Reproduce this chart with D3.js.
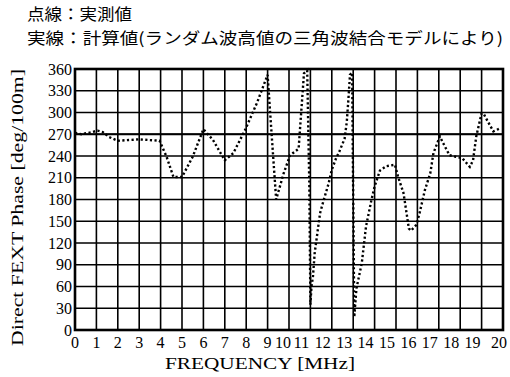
<!DOCTYPE html>
<html>
<head>
<meta charset="utf-8">
<script src="https://cdn.jsdelivr.net/npm/d3@7"></script>
<style>
  body { margin: 0; background: #fff; }
</style>
</head>
<body>
<div id="chart"></div>
<script>
// Textes du graphique
const titleLines = ["点線：実測値", "実線：計算値(ランダム波高値の三角波結合モデルにより)"];
const xLabel = "FREQUENCY [MHz]";
const yLabel = "Direct FEXT Phase [deg/100m]";

// Graduations
const xTicks = d3.range(0, 21, 1);
const yTicks = d3.range(0, 361, 30);

// Valeur calculée (ligne continue)
const computedFreq = [0, 20];
const computedPhase = [270, 270];

const measuredFreq = [0.0, 0.3, 0.8, 1.05, 1.3, 1.6, 2.0, 3.0, 3.95, 4.28, 4.6, 5.0, 5.5, 6.0, 6.45, 7.0, 7.4, 7.95, 8.5, 9.0,
  9.1, 9.27, 9.4, 9.75, 10.05, 10.45, 10.55, 10.7, 10.85, 10.95, 11.0, 11.05, 11.12, 11.2, 11.45, 11.6, 11.85, 12.0, 12.2, 12.35,
  12.6, 12.7, 12.78, 12.85, 12.95, 13.05, 13.15, 13.4, 13.6, 13.85, 14.0, 14.25, 14.55, 14.95, 15.1, 15.35, 15.5, 15.6, 15.7, 15.95,
  16.1, 16.35, 16.6, 16.75, 17.05, 17.2, 17.5, 17.8, 18.1, 18.45, 18.6, 18.75, 19.0, 19.1, 19.3, 19.55, 19.85];
const measuredPhase = [272, 270, 273, 275, 273, 266, 261, 263, 261, 239, 211, 211, 239, 277, 262, 234, 244, 276, 313, 352,
  308, 235, 180, 216, 241, 250, 292, 354, 358, 200, 35, 60, 74, 106, 161, 177, 202, 221, 237, 246,
  264, 287, 320, 352, 355, 18, 57, 92, 143, 179, 198, 220, 226, 228, 211, 189, 160, 140, 137, 145,
  161, 193, 216, 244, 267, 258, 241, 239, 237, 225, 234, 267, 299, 298, 287, 274, 278];

const width = 510, height = 377;
const margin = {top: 69, right: 7, bottom: 47, left: 75};
const serif = "'Liberation Serif', 'DejaVu Serif', serif";
const cjk = "'Noto Sans CJK JP', sans-serif";

const svg = d3.select("#chart").append("svg")
  .attr("width", width)
  .attr("height", height);

const x = d3.scaleLinear().domain([0, 20]).range([margin.left, width - margin.right]);
const y = d3.scaleLinear().domain([0, 360]).range([height - margin.bottom, margin.top]);

// Titre en deux lignes
svg.append("text")
  .attr("x", 27).attr("y", 20)
  .attr("font-family", cjk).attr("font-size", 16)
  .attr("textLength", 105).attr("lengthAdjust", "spacingAndGlyphs")
  .text(titleLines[0]);
svg.append("text")
  .attr("x", 27).attr("y", 44)
  .attr("font-family", cjk).attr("font-size", 16)
  .attr("textLength", 476).attr("lengthAdjust", "spacingAndGlyphs")
  .text(titleLines[1]);

// Grille
svg.append("g").selectAll("line")
  .data(xTicks)
  .join("line")
  .attr("x1", d => x(d)).attr("x2", d => x(d))
  .attr("y1", y(0)).attr("y2", y(360))
  .attr("stroke", "#000").attr("stroke-width", 1.6);

svg.append("g").selectAll("line")
  .data(yTicks)
  .join("line")
  .attr("x1", x(0)).attr("x2", x(20))
  .attr("y1", d => y(d)).attr("y2", d => y(d))
  .attr("stroke", "#000").attr("stroke-width", 1.4);

// Cadre
svg.append("rect")
  .attr("x", x(0)).attr("y", y(360))
  .attr("width", x(20) - x(0)).attr("height", y(0) - y(360))
  .attr("fill", "none").attr("stroke", "#000").attr("stroke-width", 2.6);

// Ligne calculée
const line = d3.line().x(d => x(d[0])).y(d => y(d[1]));
svg.append("path")
  .datum(d3.zip(computedFreq, computedPhase))
  .attr("d", line)
  .attr("fill", "none").attr("stroke", "#000").attr("stroke-width", 2);

// Ligne mesurée en pointillés
svg.append("path")
  .datum(d3.zip(measuredFreq, measuredPhase))
  .attr("d", line)
  .attr("fill", "none").attr("stroke", "#000")
  .attr("stroke-width", 2.4).attr("stroke-dasharray", "2.2,2.4");

// Étiquettes des axes (les nombres à deux chiffres sont serrés vers la gauche)
svg.append("g").selectAll("text")
  .data(xTicks)
  .join("text")
  .attr("x", d => x(d) + (d === 20 ? -4 : d === 10 ? -6 : d > 10 ? -9 : 0))
  .attr("y", height - 29)
  .attr("text-anchor", "middle")
  .attr("font-family", serif).attr("font-size", 16)
  .attr("textLength", d => d >= 10 ? 16 : null)
  .attr("lengthAdjust", "spacingAndGlyphs")
  .text(d => d);

svg.append("g").selectAll("text")
  .data(yTicks)
  .join("text")
  .attr("x", x(0) - 3).attr("y", d => y(d) + 5.5)
  .attr("text-anchor", "end")
  .attr("font-family", serif).attr("font-size", 16)
  .text(d => d);

svg.append("text")
  .attr("x", 260).attr("y", height - 8)
  .attr("text-anchor", "middle")
  .attr("font-family", serif).attr("font-size", 17)
  .attr("textLength", 190).attr("lengthAdjust", "spacingAndGlyphs")
  .text(xLabel);

svg.append("text")
  .attr("transform", `translate(23, ${(y(0) + y(360)) / 2 + 8}) rotate(-90)`)
  .attr("text-anchor", "middle")
  .attr("font-family", serif).attr("font-size", 17)
  .attr("textLength", 277).attr("lengthAdjust", "spacingAndGlyphs")
  .text(yLabel);
</script>
</body>
</html>
